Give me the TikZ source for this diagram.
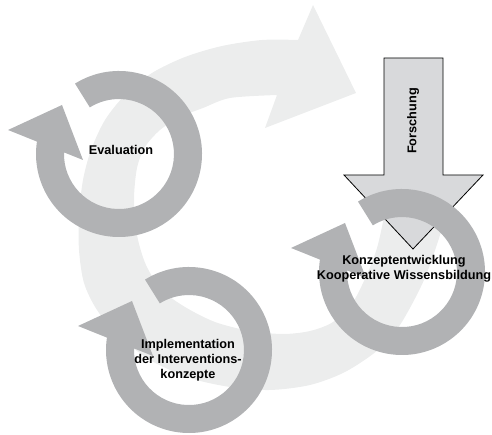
\documentclass[tikz,border=0pt]{standalone}
\usepackage{fontspec}
\setmainfont{Liberation Sans}
\usepackage{tikz}
\definecolor{ringgray}{RGB}{177,178,180}
\definecolor{cyclegray}{RGB}{236,237,237}
\definecolor{inputgray}{RGB}{216,217,219}
% circular arrow round a centre
\newcommand{\ringarrow}[1]{%
  \begin{scope}[shift={(#1)}]
    \fill[ring] (122:\ringout) arc[start angle=122,end angle=-188.6,radius=\ringout]
      -- (-111,24) -- (-57,49) -- (-36,-6) -- (-55,1.6)
      arc[start angle=-181.7,end angle=122,radius=\ringin] -- cycle;
  \end{scope}}

\begin{document}
\begin{tikzpicture}[x=1pt,y=1pt]
     \tikzstyle{every node}=[font=\bfseries\fontsize{12.7}{15}\selectfont,align=center]
     \tikzstyle{ring}=[fill=ringgray]
     \tikzstyle{cycle}=[fill=cyclegray]
     \tikzstyle{input}=[fill=inputgray,draw=black,line width=0.8pt]
      \pgfmathsetmacro\ringout{83}
      \pgfmathsetmacro\ringin{55}
      \useasboundingbox (0,0) rectangle (492,435);
      \coordinate (EvalC) at (119,281);
      \coordinate (ImplC) at (189,85);
      \coordinate (KonzC) at (402,163);
      % big cycle
      \fill[cycle] plot[smooth] coordinates {(446,225) (441,203) (424,155) (400,110) (378,85)
        (345,63) (310,50) (270,45) (230,48) (190,57) (150,75) (118,100) (97,125) (84,152)
        (79,185) (79,220) (83,255) (91,285) (105,315) (125,340) (152,362) (185,378)
        (222,389) (262,395) (298,395)}
        -- (313,430) -- (356,342) -- (265,307)
        -- plot[smooth] coordinates {(277,340) (230,337) (203,327) (180,318) (160,305)
        (145,288) (137,267) (134,235) (137,200) (146,170) (162,145) (185,128) (215,113)
        (250,104) (283,101) (310,104) (333,113) (353,133) (368,163) (377,187) (383,213)
        (386,230)} -- cycle;
      % research input
      \draw[input] (384,377) -- (443,377) -- (443,260) -- (483,260) -- (413,186)
        -- (344,260) -- (384,260) -- cycle;
      \node[rotate=90] (forschung) at (413,314) {Forschung};
      % rings
      \ringarrow{EvalC}
      \ringarrow{ImplC}
      \ringarrow{KonzC}
      \node (eval) at (121,285) {Evaluation};
      \node (konzept) at (404,166) {Konzeptentwicklung\\Kooperative Wissensbildung};
      \node (impl) at (188,75) {Implementation\\der Interventions-\\konzepte};
\end{tikzpicture}
\end{document}
